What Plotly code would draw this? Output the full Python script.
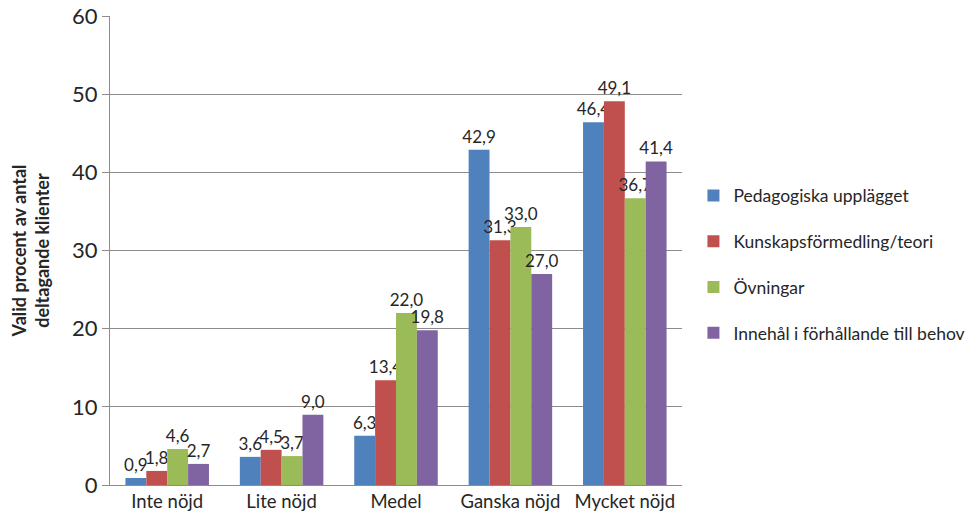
import plotly.graph_objects as go

categories = ["Inte nöjd", "Lite nöjd", "Medel", "Ganska nöjd", "Mycket nöjd"]
series_names = ["Pedagogiska upplägget", "Kunskapsförmedling/teori", "Övningar",
                "Innehål i förhållande till behov"]
pedagogiska = [0.9, 3.6, 6.3, 42.9, 46.4]
kunskap = [1.8, 4.5, 13.4, 31.3, 49.1]
ovningar = [4.6, 3.7, 22.0, 33.0, 36.7]
innehall = [2.7, 9.0, 19.8, 27.0, 41.4]
y_ticks = [0, 10, 20, 30, 40, 50, 60]

colors = ["#4F81BD", "#C0504D", "#9BBB59", "#8064A2"]
font = "Lato, Open Sans, sans-serif"

fig = go.Figure()
for i, (name, vals) in enumerate(zip(series_names, [pedagogiska, kunskap, ovningar, innehall])):
    fig.add_trace(go.Bar(
        x=categories, y=vals, name=name, marker_color=colors[i],
        marker_line_width=0,
        text=[f"{v:.1f}".replace(".", ",") for v in vals],
        textposition="outside", constraintext="none", cliponaxis=False,
        textfont=dict(size=17, color="#262626", family=font),
        legendgroup=f"g{i}",
    ))

fig.update_layout(
    width=970, height=519, barmode="group", bargap=0.27, bargroupgap=0,
    plot_bgcolor="white", paper_bgcolor="white",
    margin=dict(l=102, r=296, t=8, b=42),
    font=dict(family=font, color="#262626"),
    legend=dict(x=1.02, y=0.471, yanchor="middle", xanchor="left",
                font=dict(size=17.5, family=font, color="#262626"),
                tracegroupgap=20, itemwidth=30),
    yaxis=dict(range=[0, 60], tickvals=y_ticks, showgrid=True, gridcolor="#8C8C8C",
               gridwidth=1, showline=True, linecolor="#8C8C8C", ticks="outside",
               ticklen=7, tickcolor="#8C8C8C", tickfont=dict(size=22, color="#262626"),
               zeroline=False, automargin=False, ticklabeloverflow="allow",
               title=dict(text="<b>Valid procent av antal<br>deltagande klienter</b>",
                          font=dict(size=18, color="#262626"), standoff=18)),
    xaxis=dict(showline=True, linecolor="#8C8C8C", tickfont=dict(size=18.5, color="#262626"),
               ticks="", showgrid=False, automargin=False),
)

fig.write_html("out.html")
